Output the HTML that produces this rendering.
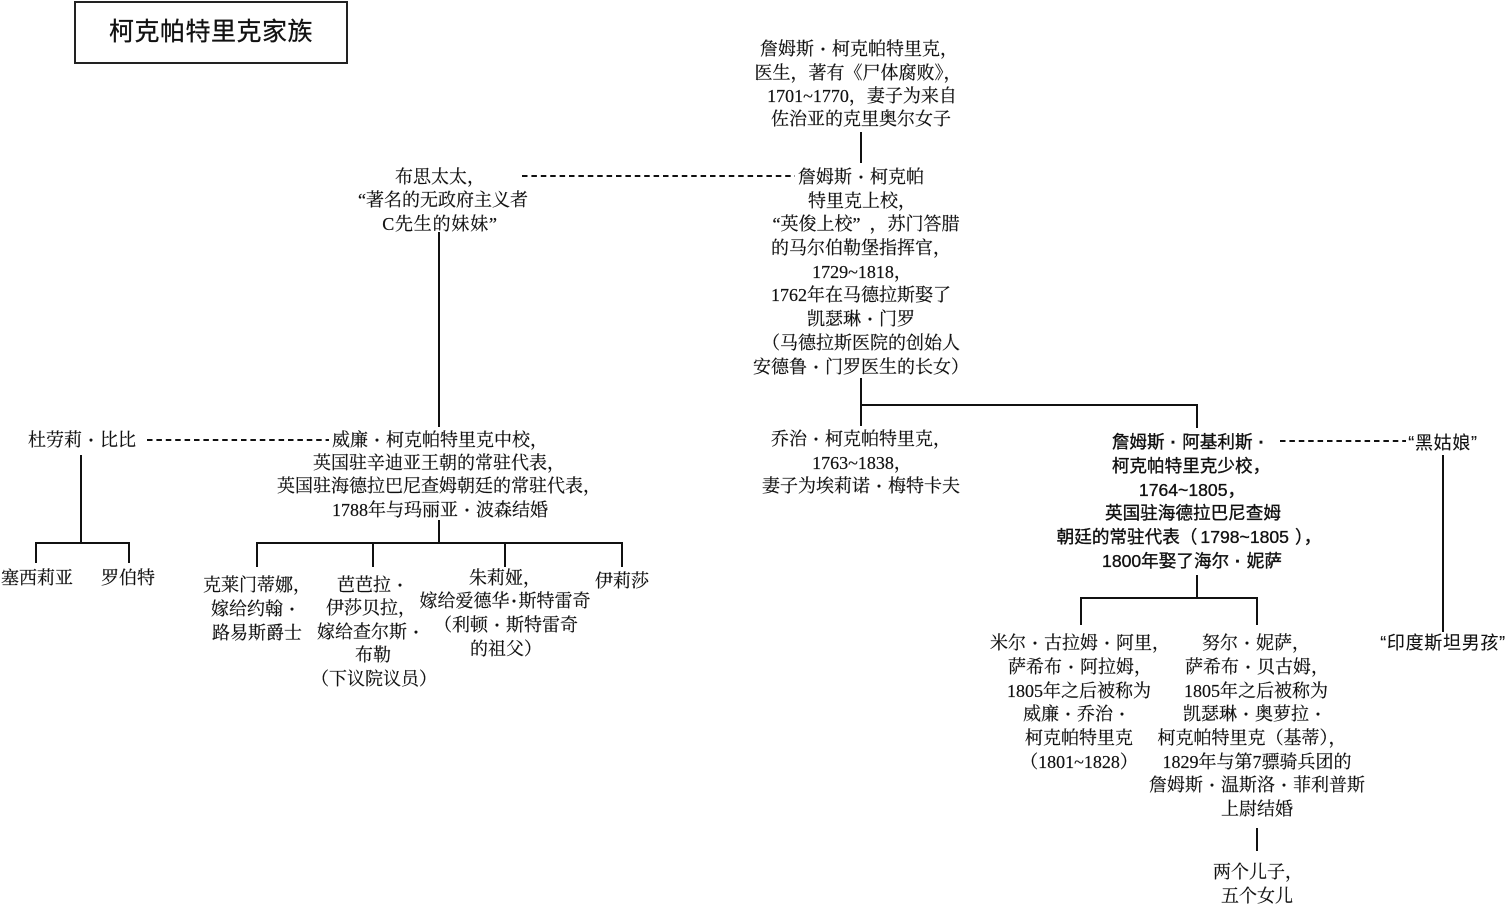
<!DOCTYPE html>
<html lang="zh"><head><meta charset="utf-8"><title>柯克帕特里克家族</title>
<style>
html,body{margin:0;padding:0;background:#fff}
#c{position:relative;width:1506px;height:906px;overflow:hidden;background:#fff;color:#111;font-family:"Liberation Serif","Noto Serif CJK SC",serif;font-size:18px;-webkit-text-stroke:.2px #111}
p{position:absolute;margin:1px 0 0;line-height:24px;white-space:pre;transform:translate(-50%,-50%)}
p i{font-style:normal;display:inline-block;width:1em;text-align:center;font-weight:700}
p i.n{width:.5em}
.s{font-family:"Liberation Sans","Noto Sans CJK SC",sans-serif;font-size:17.6px;-webkit-text-stroke:.35px #111}
.q{font-family:"Liberation Sans","Noto Sans CJK SC",sans-serif;font-size:18px;-webkit-text-stroke:.1px #111;letter-spacing:.7px}
#t{position:absolute;left:74px;top:2px;width:270px;height:59px;border:2px solid #222;font:25px/59px "Liberation Sans","Noto Sans CJK SC",sans-serif;text-align:center;color:#111;letter-spacing:.5px;-webkit-text-stroke:.3px #111;box-sizing:content-box;margin-top:-1px}
svg{position:absolute;left:0;top:0}
</style></head><body><div id="c">
<svg width="1506" height="906" fill="none" stroke="#111" stroke-width="2">
<path d="M861 132V163M439 232V427M81 455V543M36 563V543H129V563M439 520V543M257 567V543H622V567M373 543V567M505 543V567M861 378V426M861 405H1197V428M1197 575V598M1081 625V598H1257V625M1443 455V632M1257 828V851"/>
<path stroke-width="2" stroke-dasharray="5.5 3.9" d="M522 176H795M147 440H329M1280 441H1406"/>
</svg>
<div id="t">柯克帕特里克家族</div>

<p style="left:859px;top:48px">詹姆斯<i>·</i>柯克帕特里克，</p>
<p style="left:858px;top:72px">医生，著有《尸体腐败》，</p>
<p style="left:862px;top:95px">1701~1770，妻子为来自</p>
<p style="left:861px;top:118px">佐治亚的克里奥尔女子</p>

<p style="left:440px;top:176px">布思太太，</p>
<p style="left:443px;top:199px">“著名的无政府主义者</p>
<p style="left:440px;top:223px"><span style="letter-spacing:.8px">C先生的妹妹”</span></p>

<p style="left:861px;top:176px">詹姆斯<i>·</i>柯克帕</p>
<p style="left:862px;top:200px">特里克上校，</p>
<p style="left:866px;top:223px">“英俊上校”<span style="margin-left:9px">，</span>苏门答腊</p>
<p style="left:861px;top:247px">的马尔伯勒堡指挥官，</p>
<p style="left:862px;top:271px">1729~1818，</p>
<p style="left:861px;top:294px">1762年在马德拉斯娶了</p>
<p style="left:861px;top:318px">凯瑟琳<i>·</i>门罗</p>
<p style="left:861px;top:342px">（马德拉斯医院的创始人</p>
<p style="left:861px;top:366px">安德鲁<i>·</i>门罗医生的长女）</p>

<p style="left:82px;top:439px">杜劳莉<i>·</i>比比</p>
<p style="left:37px;top:577px">塞西莉亚</p>
<p style="left:128px;top:577px">罗伯特</p>

<p style="left:440px;top:439px">威廉<i>·</i>柯克帕特里克中校，</p>
<p style="left:439px;top:462px">英国驻辛迪亚王朝的常驻代表，</p>
<p style="left:439px;top:485px">英国驻海德拉巴尼查姆朝廷的常驻代表，</p>
<p style="left:440px;top:509px">1788年与玛丽亚<i>·</i>波森结婚</p>

<p style="left:257px;top:584px">克莱门蒂娜，</p>
<p style="left:256px;top:608px">嫁给约翰<i>·</i></p>
<p style="left:257px;top:632px">路易斯爵士</p>

<p style="left:373px;top:584px">芭芭拉<i>·</i></p>
<p style="left:371px;top:607px">伊莎贝拉，</p>
<p style="left:371px;top:631px">嫁给查尔斯<i>·</i></p>
<p style="left:373px;top:654px">布勒</p>
<p style="left:374px;top:678px">（下议院议员）</p>

<p style="left:505px;top:577px">朱莉娅，</p>
<p style="left:505px;top:600px">嫁给爱德华<i class="n">·</i>斯特雷奇</p>
<p style="left:506px;top:624px">（利顿<i>·</i>斯特雷奇</p>
<p style="left:506px;top:648px">的祖父）</p>

<p style="left:622px;top:580px">伊莉莎</p>

<p style="left:861px;top:438px">乔治<i>·</i>柯克帕特里克，</p>
<p style="left:862px;top:462px">1763~1838，</p>
<p style="left:861px;top:485px">妻子为埃莉诺<i>·</i>梅特卡夫</p>

<p class="s" style="left:1191px;top:441px">詹姆斯<i>·</i>阿基利斯<i>·</i></p>
<p class="s" style="left:1191px;top:465px">柯克帕特里克少校，</p>
<p class="s" style="left:1192px;top:489px">1764~1805，</p>
<p class="s" style="left:1193px;top:512px">英国驻海德拉巴尼查姆</p>
<p class="s" style="left:1189px;top:536px">朝廷的常驻代表（<span style="margin:0 6px 0 3px">1798~1805</span>），</p>
<p class="s" style="left:1192px;top:560px">1800年娶了海尔<i>·</i>妮萨</p>

<p class="q" style="left:1443px;top:442px">“黑姑娘”</p>
<p class="q" style="left:1443px;top:642px">“印度斯坦男孩”</p>

<p style="left:1080px;top:642px">米尔<i>·</i>古拉姆<i>·</i>阿里，</p>
<p style="left:1080px;top:666px">萨希布<i>·</i>阿拉姆，</p>
<p style="left:1079px;top:690px">1805年之后被称为</p>
<p style="left:1077px;top:713px">威廉<i>·</i>乔治<i>·</i></p>
<p style="left:1079px;top:737px">柯克帕特里克</p>
<p style="left:1079px;top:761px">（1801~1828）</p>

<p style="left:1256px;top:642px">努尔<i>·</i>妮萨，</p>
<p style="left:1257px;top:666px">萨希布<i>·</i>贝古姆，</p>
<p style="left:1256px;top:690px">1805年之后被称为</p>
<p style="left:1255px;top:713px">凯瑟琳<i>·</i>奥萝拉<i>·</i></p>
<p style="left:1252px;top:737px">柯克帕特里克（基蒂），</p>
<p style="left:1257px;top:761px">1829年与第7骠骑兵团的</p>
<p style="left:1257px;top:784px">詹姆斯<i>·</i>温斯洛<i>·</i>菲利普斯</p>
<p style="left:1257px;top:808px">上尉结婚</p>

<p style="left:1258px;top:871px">两个儿子，</p>
<p style="left:1257px;top:895px">五个女儿</p>
</div></body></html>
